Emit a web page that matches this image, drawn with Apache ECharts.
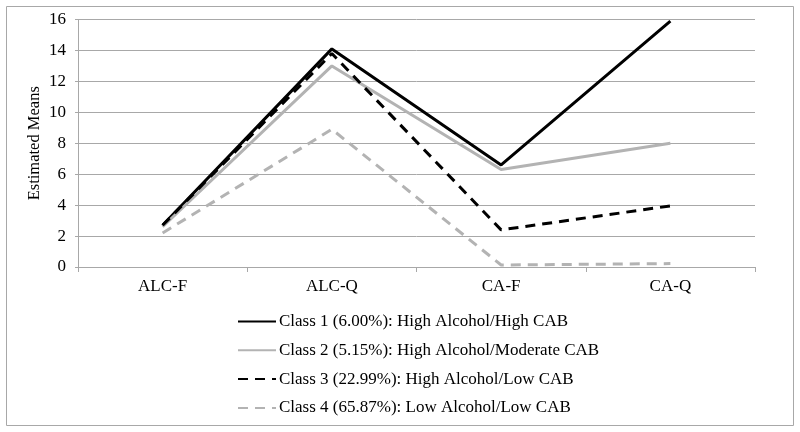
<!DOCTYPE html>
<html><head><meta charset="utf-8">
<script src="https://cdn.jsdelivr.net/npm/echarts@6/dist/echarts.min.js"></script>
<style>html,body{margin:0;padding:0;background:#fff}#c{width:800px;height:432px}</style>
</head><body><div id="c"></div>
<script>
const categories = ['ALC-F', 'ALC-Q', 'CA-F', 'CA-Q'];
const yTicks = [0, 2, 4, 6, 8, 10, 12, 14, 16];
const class1 = [2.7, 14.1, 6.6, 15.9];
const class2 = [2.6, 13.0, 6.3, 8.0];
const class3 = [2.7, 13.8, 2.4, 3.95];
const class4 = [2.2, 8.9, 0.13, 0.22];
const names = [
  'Class 1 (6.00%): High Alcohol/High CAB',
  'Class 2 (5.15%): High Alcohol/Moderate CAB',
  'Class 3 (22.99%): High Alcohol/Low CAB',
  'Class 4 (65.87%): Low Alcohol/Low CAB'
];
const font = 'Liberation Serif';
const chart = echarts.init(document.getElementById('c'), null, {renderer: 'canvas'});
function ser(name, data, color, type) {
  return {name, type: 'line', data, symbol: 'none', lineStyle: {color, width: 3, type}, itemStyle: {color}, z: 3};
}
chart.setOption({
  animation: false,
  graphic: [{type: 'rect', shape: {x: 6.5, y: 6.5, width: 787, height: 419}, style: {fill: 'none', stroke: '#a8a8a8', lineWidth: 1}, z: 0}],
  grid: {left: 78, right: 45, top: 19.5, bottom: 165, containLabel: false},
  xAxis: {type: 'category', data: categories, boundaryGap: true,
    axisLine: {lineStyle: {color: '#a8a8a8', width: 1}},
    axisTick: {show: true, length: 5, lineStyle: {color: '#a8a8a8'}},
    axisLabel: {fontFamily: font, fontSize: 17, color: '#000', margin: 11}},
  yAxis: {type: 'value', min: 0, max: 16, interval: 2,
    name: 'Estimated Means', nameLocation: 'middle', nameGap: 35, nameRotate: 90,
    nameMoveOverlap: false,
    nameTextStyle: {fontFamily: font, fontSize: 16.5, color: '#000'},
    axisLine: {show: true, lineStyle: {color: '#a8a8a8', width: 1}},
    axisTick: {show: true, length: 3, lineStyle: {color: '#a8a8a8'}},
    axisLabel: {fontFamily: font, fontSize: 17, color: '#000', margin: 12,
      formatter: v => yTicks.includes(v) ? String(v) : ''},
    splitLine: {lineStyle: {color: '#a8a8a8', width: 1}}},
  legend: {orient: 'vertical', left: 232, top: 308, itemWidth: 38, itemHeight: 2, itemGap: 11.8,
    itemStyle: {opacity: 0, borderWidth: 0},
    textStyle: {fontFamily: font, fontSize: 17, color: '#000', padding: [0,0,0,-2]},
    data: names},
  series: [
    ser(names[0], class1, '#000000', 'solid'),
    ser(names[1], class2, '#b3b3b3', 'solid'),
    ser(names[2], class3, '#000000', [10, 7]),
    ser(names[3], class4, '#b3b3b3', [10, 7])
  ]
});
</script></body></html>
